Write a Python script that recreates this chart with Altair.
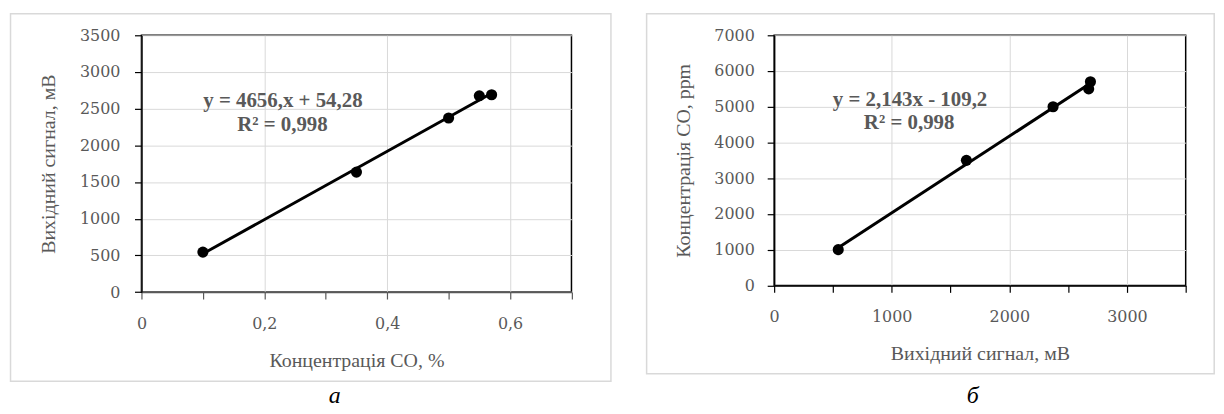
import altair as alt
import pandas as pd

# ---- data ----
co_percent = [0.10, 0.35, 0.50, 0.55, 0.57]
signal_mv = [545, 1635, 2372, 2675, 2690]
co_ppm = [1000, 3500, 5000, 5500, 5700]

eq_a_text = ["y = 4656,x + 54,28", "R² = 0,998"]
eq_a_x = [0.2303, 0.2295]
eq_a_y = [2602, 2276]

eq_b_text = ["y = 2,143x - 109,2", "R² = 0,998"]
eq_b_x = [1156, 1148]
eq_b_y = [5175, 4543]

xa_ticks = [0, 0.1, 0.2, 0.3, 0.4, 0.5, 0.6, 0.7]
ya_ticks = [0, 500, 1000, 1500, 2000, 2500, 3000, 3500]
xb_ticks = [0, 500, 1000, 1500, 2000, 2500, 3000, 3500]
yb_ticks = [0, 1000, 2000, 3000, 4000, 5000, 6000, 7000]

title_a_x = "Концентрація СО, %"
title_a_y = "Вихідний сигнал, мВ"
title_b_x = "Вихідний сигнал, мВ"
title_b_y = "Концентрація СО, ppm"
caption_a = "а"
caption_b = "б"

GRAY = "#595959"
GRID = "#d9d9d9"
LABEL_FONT = "DejaVu Serif"
TITLE_FONT = "Liberation Serif"

df_a = pd.DataFrame({"x": co_percent, "y": signal_mv})
df_b = pd.DataFrame({"x": signal_mv, "y": co_ppm})
eq_a = pd.DataFrame({"x": eq_a_x, "y": eq_a_y, "label": eq_a_text})
eq_b = pd.DataFrame({"x": eq_b_x, "y": eq_b_y, "label": eq_b_text})

WA, HA = 432.6, 258.3
WB, HB = 414.0, 251.6


def common_axis():
    return dict(
        labelFont=LABEL_FONT, labelFontSize=16, labelColor=GRAY,
        titleFont=TITLE_FONT, titleFontSize=20, titleColor=GRAY,
        titleFontWeight="normal", tickSize=7, tickWidth=1.2,
        gridColor=GRID, gridWidth=1, domainWidth=1.5,
        labelFlush=False, labelOverlap=False,
    )


def x_axis(values, title, w, label_expr, odd_test, dom_color):
    return alt.Axis(
        values=values, title=title, labelExpr=label_expr,
        gridOpacity={"condition": {"test": odd_test, "value": 0}, "value": 1},
        domainColor=dom_color, tickColor=dom_color,
        labelPadding=24.5, labelBaseline="middle",
        titleX=w / 2, titleY=69, titleAlign="center", titleBaseline="middle",
        **common_axis(),
    )


def y_axis(values, title, h, lab_pad, title_x):
    return alt.Axis(
        values=values, title=title, format="d",
        domainColor="black", tickColor="black",
        labelPadding=lab_pad,
        titleX=title_x, titleY=h / 2, titleAngle=-90,
        titleAlign="center", titleBaseline="middle",
        **common_axis(),
    )


def panel(df, eqdf, xenc, yenc, w, h, frame, caption, cap_x, cap_y):
    one = alt.Data(values=[{"k": 0}])
    fr = alt.Chart(one).mark_rect(
        fill="transparent", stroke=GRID, strokeWidth=1.5
    ).encode(
        x=alt.value(frame[0]), x2=alt.value(frame[1]),
        y=alt.value(frame[2]), y2=alt.value(frame[3]),
    )
    line = alt.Chart(df).transform_regression("x", "y").mark_line(
        color="black", strokeWidth=3
    ).encode(x=xenc, y=yenc)
    pts = alt.Chart(df).mark_circle(size=125, color="black", opacity=1).encode(
        x=xenc, y=yenc
    )
    eq = alt.Chart(eqdf).mark_text(
        font=TITLE_FONT, fontSize=21, fontWeight="bold", color=GRAY,
        align="center", baseline="middle",
    ).encode(x=xenc, y=yenc, text="label:N")
    cap = alt.Chart(one).mark_text(
        text=caption, font=TITLE_FONT, fontStyle="italic", fontSize=24,
        color="black", align="center", baseline="alphabetic",
    ).encode(x=alt.value(cap_x), y=alt.value(cap_y))
    return alt.layer(fr, line, pts, eq, cap).properties(width=w, height=h)


xa = alt.X(
    "x:Q", scale=alt.Scale(domain=[0, 0.7], nice=False, zero=False),
    axis=x_axis(
        xa_ticks, title_a_x, WA,
        "datum.value == 0 ? '0' : (round(datum.value*10) % 2 == 0 ? replace(format(datum.value, '.1f'), '.', ',') : '')",
        "round(datum.value*10) % 2 == 1", GRAY,
    ),
)
ya = alt.Y(
    "y:Q", scale=alt.Scale(domain=[0, 3500], nice=False),
    axis=y_axis(ya_ticks, title_a_y, HA, 14.7, -93.7),
)
xb = alt.X(
    "x:Q", scale=alt.Scale(domain=[0, 3500], nice=False),
    axis=x_axis(
        xb_ticks, title_b_x, WB,
        "datum.value % 1000 == 0 ? format(datum.value, 'd') : ''",
        "datum.value % 1000 != 0", "black",
    ),
)
yb = alt.Y(
    "y:Q", scale=alt.Scale(domain=[0, 7000], nice=False),
    axis=y_axis(yb_ticks, title_b_y, HB, 13, -91.3),
)

left = panel(df_a, eq_a, xa, ya, WA, HA,
             (-131.7, 472.3, -21.7, 348.0), caption_a, 194.3, 369.5)
right = panel(df_b, eq_b, xb, yb, WB, HB,
              (-128.3, 442.7, -21.7, 340.6), caption_b, 199.7, 369.5)

chart = alt.hconcat(left, right, spacing=32.5).properties(
    padding={"left": 0.25, "top": 2.25, "right": 0, "bottom": 0},
    background="white",
).configure_view(stroke="black", strokeWidth=1.5)

chart.save("out.html", embed_options={"renderer": "svg", "actions": False})
